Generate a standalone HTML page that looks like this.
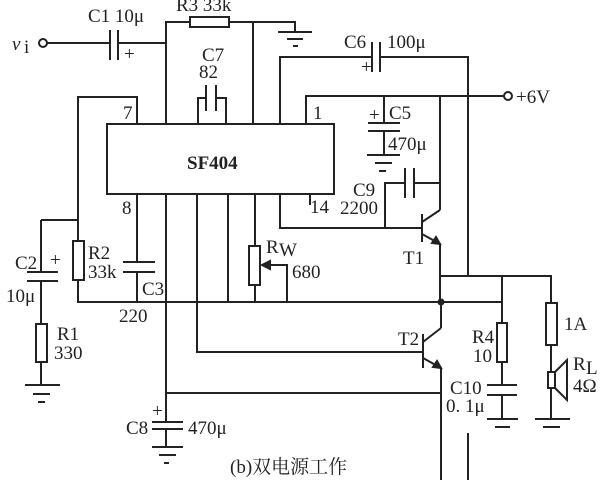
<!DOCTYPE html>
<html><head><meta charset="utf-8"><style>
html,body{margin:0;padding:0;background:#fff;}
svg{display:block}
text{font-family:"Liberation Serif","Noto Serif CJK SC",serif;fill:#222;font-size:19px}
</style></head><body>
<svg width="600" height="480" viewBox="0 0 600 480" xmlns="http://www.w3.org/2000/svg">
<g stroke="#222" stroke-width="2" fill="none">
<rect x="107" y="124" width="227" height="70"/>
<circle cx="43" cy="43" r="4"/>
<path d="M47 43H110M118 43H166M110 30V60M118 30V60"/>
<path d="M166 124V22H190M229 22H295V32"/>
<rect x="190" y="17" width="39" height="10"/>
<path d="M278 32H312M287 39H303M293 46H298"/>
<path d="M253 22V124"/>
<path d="M198 124V98H206M216 98H226V124M206 85V111M216 85V111"/>
<path d="M137 124V97H78V302H166M41 220H78"/>
<rect x="73" y="241" width="11" height="39" fill="#fff"/>
<path d="M41 220V272M27 272H58M27 281H58M41 281V385"/>
<rect x="36" y="324" width="11" height="38" fill="#fff"/>
<path d="M25 385H60M33 394H50M38 402H45"/>
<path d="M137 194V262M123 262H155M123 272H155M137 272V302"/>
<path d="M166 194V422M197 194V352H422M228 194V302M255 194V246M255 285V302M280 194V228H422M310 194V205"/>
<rect x="249" y="246" width="11" height="39" fill="#fff"/>
<path d="M262 265H287V302"/>
<path d="M262 265l8-4v8z" fill="#222"/>
<path d="M166 302H502M166 393H441"/>
<path d="M152 422H183M152 429H183M166 429V447M152 447H183M159 455H176M164 463H169"/>
<path d="M280 124V57H372M380 57H468V276M372 42V72M380 42V72"/>
<path d="M306 124V96H504"/>
<circle cx="508" cy="96" r="4"/>
<path d="M384 96V123M368 123H400M368 131H400M384 131V155M367 155H400M375 163H392M379 171H386"/>
<path d="M385 228V183H405M414 183H440M405 168V198M414 168V198"/>
<path d="M422 214V242M422 222L440 210M440 96V210M422 234L440 244V302"/>
<path d="M440 244l-8-1 4-6z" fill="#222"/>
<circle cx="441" cy="302" r="2.5" fill="#222"/>
<path d="M441 302V328M423 334V368M423 342L441 328M423 358L441 368V480"/>
<path d="M441 368l-8-1 4-6z" fill="#222"/>
<path d="M441 276H551V303M502 276V323M502 302V385"/>
<rect x="497" y="323" width="10" height="39" fill="#fff"/>
<path d="M502 362V385M487 385H517M487 395H517M502 395V419M487 419H518M495 427H510"/>
<rect x="546" y="303" width="11" height="42" fill="#fff"/>
<path d="M551 345V372M551 388V419M535 419H570M543 427H560"/>
<rect x="548" y="372" width="7" height="16"/>
<path d="M555 372L567 360V400L555 388"/>
<path d="M468 433V480"/>
</g>
<text x="12" y="50" font-style="italic">v</text><text x="24" y="53" font-size="13">i</text>
<text x="88" y="22">C1 10μ</text>
<text x="176" y="11">R3  33k</text>
<text x="124" y="60" font-size="12">+</text>
<text x="202" y="61">C7</text>
<text x="199" y="78">82</text>
<text x="123" y="119">7</text>
<text x="313" y="119">1</text>
<text x="122" y="214">8</text>
<text x="310" y="213">14</text>
<text x="187" y="169" font-weight="bold" font-size="19">SF404</text>
<text x="344" y="48">C6</text><text x="387" y="48">100μ</text>
<text x="361" y="73" font-size="13">+</text>
<text x="516" y="103">+6V</text>
<text x="369" y="121" font-size="13">+</text>
<text x="389" y="119">C5</text><text x="388" y="150">470μ</text>
<text x="353" y="196">C9</text><text x="340" y="214">2200</text>
<text x="403" y="264">T1</text><text x="398" y="345">T2</text>
<text x="15" y="269">C2</text><text x="50" y="266" font-size="13">+</text>
<text x="6" y="302">10μ</text>
<text x="88" y="259">R2</text><text x="88" y="278">33k</text>
<text x="142" y="295">C3</text><text x="119" y="322">220</text>
<text x="57" y="340">R1</text><text x="54" y="359">330</text>
<text x="266" y="253">R</text><text x="279" y="256" font-size="12">W</text>
<text x="292" y="278">680</text>
<text x="472" y="343">R4</text><text x="473" y="362">10</text>
<text x="450" y="394">C10</text><text x="446" y="412">0. 1μ</text>
<text x="564" y="330">1A</text>
<text x="573" y="370">R</text><text x="586" y="374" font-size="12">L</text>
<text x="573" y="392">4Ω</text>
<text x="152" y="417" font-size="13">+</text>
<text x="126" y="434">C8</text><text x="188" y="434">470μ</text>
<text x="230" y="473">(b)双电源工作</text>
</svg>
</body></html>
